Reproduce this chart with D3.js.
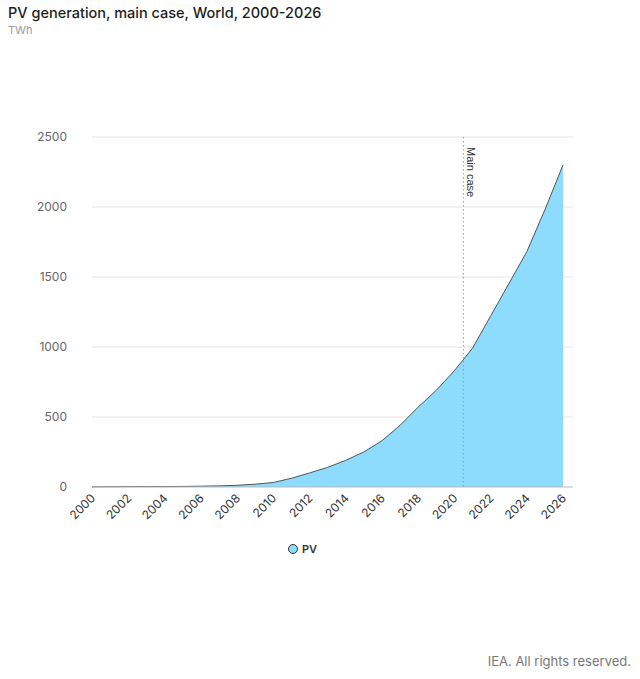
<!DOCTYPE html>
<html><head><meta charset="utf-8">
<script src="https://cdn.jsdelivr.net/npm/d3@7"></script>
<style>body{margin:0;background:#fff;font-family:Inter,"Noto Sans",sans-serif;}</style>
</head><body><div id="container"></div>
<script>
const years = d3.range(2000, 2027);
const pv = [1, 2, 3, 3, 3, 4, 6, 8, 12, 20, 32, 62, 100, 140, 190, 250, 330, 440, 570, 690, 830, 990, 1220, 1450, 1680, 1980, 2300];
const yTicks = [0, 500, 1000, 1500, 2000, 2500];
const xTicks = d3.range(2000, 2027, 2);
const markerYear = 2020.5;

const W = 640, H = 679;
const m = { left: 92, right: 77, top: 137, bottom: 192 };
const svg = d3.select("#container").append("svg").attr("width", W).attr("height", H);

const x = d3.scaleLinear().domain([2000, 2026]).range([m.left, W - m.right]);
const y = d3.scaleLinear().domain([0, 2500]).range([H - m.bottom, m.top]);

svg.append("text").attr("x", 8).attr("y", 18).attr("font-size", 14.5).attr("font-weight", 500)
  .attr("fill", "#1d1d1d").text("PV generation, main case, World, 2000-2026");
svg.append("text").attr("x", 8).attr("y", 34).attr("font-size", 11).attr("fill", "#9a9a9a").text("TWh");

// Grid lines and y labels
svg.append("g").selectAll("line").data(yTicks.slice(1)).join("line")
  .attr("x1", m.left).attr("x2", W - m.right + 10)
  .attr("y1", d => y(d)).attr("y2", d => y(d))
  .attr("stroke", "#e3e3e3");
svg.append("g").selectAll("text").data(yTicks).join("text")
  .attr("x", 67).attr("y", d => y(d) + 4).attr("text-anchor", "end")
  .attr("font-size", 12).attr("fill", "#666").text(d => d);

// Area
const data = years.map((yr, i) => ({ yr, v: pv[i] }));
svg.append("path").datum(data)
  .attr("d", d3.area().x(d => x(d.yr)).y0(y(0)).y1(d => y(d.v)))
  .attr("fill", "#8ddcfd");
svg.append("path").datum(data)
  .attr("d", d3.line().x(d => x(d.yr)).y(d => y(d.v)))
  .attr("fill", "none").attr("stroke", "#555").attr("stroke-width", 1);

// Baseline
svg.append("line").attr("x1", m.left).attr("x2", W - m.right + 10)
  .attr("y1", y(0)).attr("y2", y(0)).attr("stroke", "#bbb");

// Main case marker
svg.append("line").attr("x1", x(markerYear)).attr("x2", x(markerYear))
  .attr("y1", m.top).attr("y2", y(0))
  .attr("stroke", "#999").attr("stroke-dasharray", "1.5,2.5");
svg.append("text").attr("transform", `translate(${x(markerYear) + 4},${m.top + 10}) rotate(90)`)
  .attr("font-size", 11).attr("fill", "#333").attr("font-family", "Liberation Sans, Arial, sans-serif")
  .text("Main case");

// X axis labels
svg.append("g").selectAll("text").data(xTicks).join("text")
  .attr("transform", d => `translate(${x(d) + 4},${y(0) + 12}) rotate(-45)`)
  .attr("text-anchor", "end").attr("font-size", 12).attr("fill", "#333").text(d => d);

// Legend
svg.append("circle").attr("cx", 293).attr("cy", 549).attr("r", 4.5)
  .attr("fill", "#8ddcfd").attr("stroke", "#333").attr("stroke-width", 1);
svg.append("text").attr("x", 302).attr("y", 553).attr("font-size", 11).attr("font-weight", 600)
  .attr("fill", "#333").text("PV");

svg.append("text").attr("x", 631).attr("y", 666).attr("text-anchor", "end")
  .attr("font-size", 13).attr("fill", "#777").text("IEA. All rights reserved.");
</script></body></html>
